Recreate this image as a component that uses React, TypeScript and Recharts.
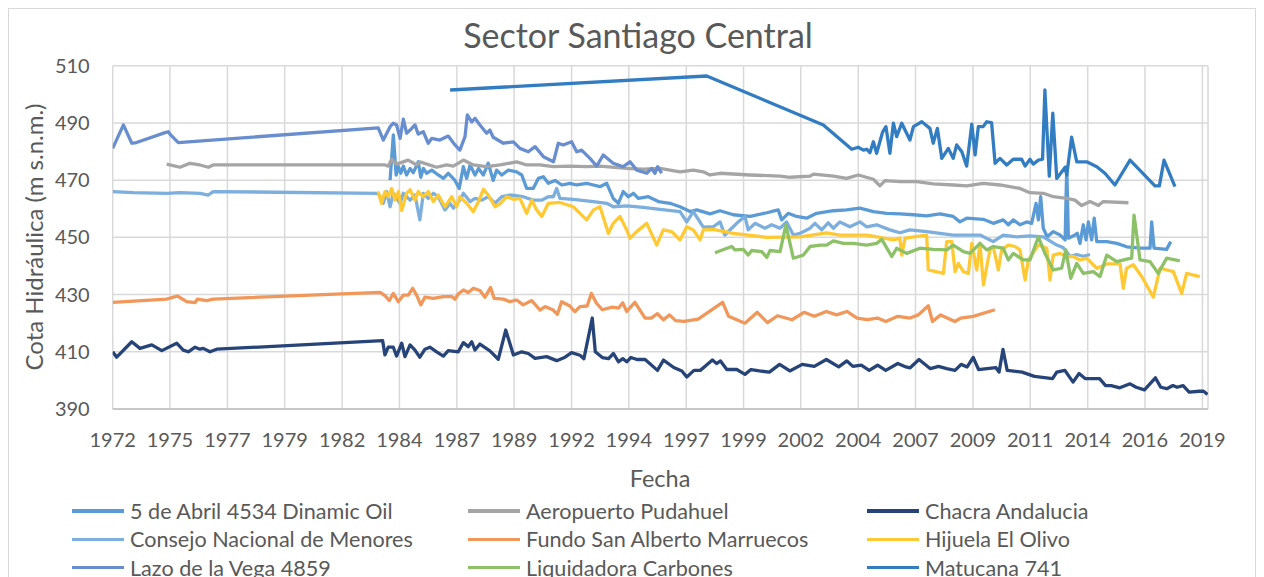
import React from "react";
import { CartesianGrid, Line, LineChart, XAxis, YAxis } from "recharts";

// Cota hidráulica por pozo, [año decimal, m s.n.m.]
const abrilData: [number, number][] = [
  [1984.47, 470.0], [1984.61, 485.8], [1984.73, 471.8], [1984.83, 474.7], [1984.93, 472.4], [1985.04, 474.9],
  [1985.18, 471.8], [1985.33, 474.1], [1985.47, 472.6], [1985.68, 476.4], [1985.79, 471.0], [1985.9, 474.1],
  [1986.04, 472.4], [1986.26, 473.5], [1986.54, 471.8], [1986.76, 470.6], [1986.97, 472.4], [1987.26, 469.9],
  [1987.44, 467.1], [1987.62, 474.7], [1987.76, 470.6], [1987.91, 475.3], [1988.12, 471.8], [1988.27, 474.1],
  [1988.48, 471.8], [1988.69, 475.9], [1988.9, 469.9], [1989.05, 473.5], [1989.27, 471.8], [1989.55, 473.5],
  [1989.91, 472.9], [1990.13, 471.8], [1990.34, 467.1], [1990.62, 467.1], [1990.84, 470.6], [1991.06, 471.2],
  [1991.27, 468.9], [1991.56, 469.9], [1991.85, 468.3], [1992.2, 468.9], [1992.49, 468.3], [1992.92, 468.9],
  [1993.21, 468.3], [1993.49, 467.7], [1993.78, 468.9], [1994.06, 463.6], [1994.28, 461.9], [1994.49, 466.0],
  [1994.71, 464.2], [1994.93, 465.4], [1995.14, 463.6], [1995.57, 464.2], [1996.0, 462.5], [1996.5, 461.9],
  [1996.93, 460.7], [1997.36, 459.0], [1997.65, 459.6], [1998.22, 458.2], [1998.65, 459.3], [1999.22, 457.9],
  [1999.94, 457.3], [2000.66, 458.6], [2001.15, 459.6], [2001.3, 456.1], [2001.58, 458.4], [2001.94, 457.3],
  [2002.37, 456.7], [2002.8, 458.4], [2003.52, 459.3], [2004.09, 459.6], [2004.66, 460.2], [2005.24, 459.0],
  [2005.81, 458.4], [2006.38, 458.2], [2006.96, 457.9], [2007.53, 457.5], [2008.1, 458.2], [2008.67, 457.3],
  [2008.96, 455.4], [2009.25, 456.7], [2009.96, 456.3], [2010.39, 454.9], [2010.82, 456.1], [2011.04, 454.4],
  [2011.25, 456.1], [2011.54, 454.4], [2011.83, 455.4], [2012.04, 454.9], [2012.23, 461.9], [2012.33, 456.1],
  [2012.43, 464.2], [2012.54, 453.2], [2012.71, 450.2], [2012.97, 452.0], [2013.26, 450.8], [2013.48, 449.1],
  [2013.55, 474.7], [2013.62, 449.7], [2013.9, 450.8], [2014.0, 451.4], [2014.12, 447.9], [2014.26, 454.4],
  [2014.38, 449.1], [2014.48, 455.4], [2014.62, 449.1], [2014.73, 456.7], [2014.84, 448.5], [2015.27, 448.5],
  [2015.7, 447.9], [2016.13, 446.7], [2016.7, 446.2], [2017.13, 446.2], [2017.2, 455.4], [2017.3, 446.2],
  [2017.84, 445.8], [2018.02, 448.5],
];

const aeropuertoData: [number, number][] = [
  [1974.87, 475.6], [1975.44, 474.5], [1975.87, 475.9], [1976.3, 475.3], [1976.66, 474.5], [1976.87, 475.3],
  [1984.25, 475.3], [1984.39, 474.9], [1984.54, 477.3], [1984.75, 475.6], [1985.25, 477.0], [1985.61, 475.3],
  [1985.75, 476.4], [1986.47, 474.5], [1986.9, 475.3], [1987.19, 474.9], [1987.62, 477.0], [1988.05, 475.3],
  [1988.62, 474.7], [1989.19, 475.3], [1989.91, 476.4], [1990.34, 475.3], [1990.91, 475.3], [1991.48, 474.7],
  [1992.2, 474.9], [1992.92, 474.7], [1993.49, 474.9], [1994.64, 474.1], [1995.35, 473.8], [1996.07, 474.1],
  [1996.93, 472.9], [1997.5, 473.5], [1997.93, 472.9], [1998.22, 471.8], [1998.65, 472.4], [1999.94, 471.8],
  [2001.23, 471.4], [2001.66, 471.0], [2002.52, 471.4], [2002.66, 472.1], [2003.52, 471.4], [2004.09, 470.6],
  [2004.59, 471.8], [2005.24, 470.3], [2005.52, 468.0], [2005.74, 469.8], [2006.38, 469.5], [2007.1, 469.5],
  [2007.81, 468.7], [2008.67, 468.3], [2009.25, 468.0], [2009.96, 468.9], [2010.68, 468.3], [2011.54, 467.1],
  [2011.97, 465.6], [2012.54, 465.4], [2012.97, 464.2], [2013.55, 463.6], [2013.9, 463.0], [2014.19, 461.1],
  [2014.55, 462.5], [2014.91, 461.1], [2015.12, 462.5], [2016.2, 462.1],
];

const chacraData: [number, number][] = [
  [1972.55, 410.0], [1972.72, 408.1], [1973.37, 413.5], [1973.72, 411.2], [1974.23, 412.4], [1974.66, 410.4],
  [1975.3, 413.0], [1975.58, 410.6], [1975.8, 410.0], [1976.09, 411.6], [1976.3, 410.9], [1976.44, 411.2],
  [1976.73, 410.0], [1977.02, 410.9], [1984.15, 413.9], [1984.25, 408.9], [1984.39, 411.6], [1984.61, 411.6],
  [1984.75, 408.5], [1984.97, 413.0], [1985.11, 408.3], [1985.33, 412.4], [1985.54, 410.6], [1985.75, 408.1],
  [1985.97, 410.9], [1986.18, 411.6], [1986.47, 410.0], [1986.76, 408.5], [1986.97, 410.4], [1987.4, 410.0],
  [1987.62, 413.2], [1987.83, 411.8], [1987.98, 413.5], [1988.12, 410.6], [1988.33, 412.7], [1988.76, 410.3],
  [1989.12, 407.4], [1989.44, 417.6], [1989.77, 408.9], [1990.13, 410.0], [1990.41, 409.4], [1990.7, 407.7],
  [1991.2, 408.3], [1991.63, 406.9], [1991.99, 408.1], [1992.27, 409.7], [1992.63, 408.8], [1992.8, 407.6],
  [1993.16, 421.8], [1993.29, 410.0], [1993.59, 408.0], [1993.86, 407.6], [1994.07, 409.4], [1994.29, 406.5],
  [1994.47, 407.6], [1994.64, 406.5], [1994.82, 408.0], [1995.08, 407.3], [1995.43, 407.3], [1995.96, 403.5],
  [1996.22, 407.1], [1996.66, 404.5], [1997.01, 403.3], [1997.22, 401.2], [1997.53, 403.5], [1997.8, 403.5],
  [1998.06, 405.3], [1998.32, 407.1], [1998.5, 405.9], [1998.67, 406.8], [1998.94, 403.8], [1999.37, 403.8],
  [1999.72, 402.1], [1999.98, 403.8], [2000.34, 403.3], [2000.77, 402.9], [2001.21, 405.6], [2001.65, 403.3],
  [2002.18, 405.6], [2002.7, 404.9], [2003.22, 407.3], [2003.75, 404.7], [2004.1, 406.8], [2004.36, 404.9],
  [2004.72, 405.3], [2005.06, 403.5], [2005.42, 405.3], [2005.77, 403.5], [2006.29, 405.9], [2006.64, 404.7],
  [2006.82, 404.4], [2007.2, 407.3], [2007.69, 404.1], [2008.04, 404.9], [2008.39, 404.1], [2008.75, 403.5],
  [2009.01, 405.6], [2009.27, 404.7], [2009.53, 408.0], [2009.76, 403.8], [2010.5, 404.5], [2010.64, 402.9],
  [2010.81, 410.8], [2010.99, 403.5], [2011.63, 402.9], [2012.16, 401.4], [2012.94, 400.6], [2013.12, 402.9],
  [2013.47, 403.5], [2013.82, 399.4], [2014.08, 402.4], [2014.35, 400.6], [2014.96, 400.6], [2015.22, 398.2],
  [2015.46, 398.2], [2015.83, 397.4], [2016.27, 398.8], [2016.53, 397.6], [2016.89, 396.7], [2017.36, 400.9],
  [2017.59, 397.6], [2017.85, 397.1], [2018.11, 398.2], [2018.29, 397.6], [2018.55, 398.2], [2018.81, 395.9],
  [2019.25, 396.2], [2019.43, 396.2], [2019.6, 395.1],
];

const consejoData: [number, number][] = [
  [1972.55, 466.0], [1973.44, 465.6], [1974.87, 465.4], [1975.44, 465.6], [1976.3, 465.4], [1976.66, 464.8],
  [1976.87, 466.0], [1983.96, 465.4], [1984.18, 461.9], [1984.32, 466.0], [1984.47, 460.7], [1984.61, 465.4],
  [1984.9, 461.9], [1985.04, 465.4], [1985.33, 463.0], [1985.54, 464.8], [1985.75, 456.1], [1985.9, 465.4],
  [1986.11, 463.6], [1986.33, 465.4], [1986.54, 464.2], [1986.83, 459.6], [1987.05, 461.9], [1987.19, 460.2],
  [1987.47, 463.0], [1987.62, 465.4], [1987.91, 462.5], [1988.12, 463.6], [1988.41, 463.0], [1988.69, 464.2],
  [1988.98, 461.9], [1989.27, 464.2], [1989.62, 464.8], [1990.19, 464.2], [1990.62, 463.0], [1990.98, 463.0],
  [1991.27, 464.2], [1991.49, 464.2], [1991.63, 467.1], [1991.77, 463.6], [1992.34, 463.3], [1993.21, 462.5],
  [1993.78, 461.9], [1994.06, 460.7], [1994.64, 461.0], [1995.35, 460.5], [1996.07, 459.8], [1996.93, 459.0],
  [1997.22, 455.4], [1997.5, 459.0], [1997.93, 453.6], [1998.36, 453.7], [1998.65, 455.4], [1998.86, 450.8],
  [1999.15, 453.2], [1999.43, 455.4], [1999.72, 457.3], [1999.86, 452.6], [2000.15, 454.9], [2000.58, 453.2],
  [2000.87, 454.4], [2001.23, 453.2], [2001.51, 455.4], [2001.8, 450.8], [2002.09, 451.4], [2002.52, 453.2],
  [2002.73, 454.9], [2003.02, 452.6], [2003.3, 455.1], [2003.52, 453.2], [2003.8, 455.4], [2004.23, 453.7],
  [2004.66, 455.4], [2004.95, 453.7], [2005.38, 454.4], [2005.95, 452.6], [2006.38, 451.6], [2006.81, 452.6],
  [2007.53, 452.0], [2008.1, 451.4], [2008.67, 450.8], [2009.25, 450.8], [2009.82, 450.8], [2010.25, 449.1],
  [2010.39, 448.5], [2010.82, 450.8], [2011.4, 450.2], [2011.97, 450.5], [2012.54, 450.2], [2013.12, 447.3],
  [2013.4, 446.4], [2013.69, 443.4], [2013.98, 444.0], [2014.26, 443.4], [2014.55, 444.0],
];

const fundoData: [number, number][] = [
  [1972.55, 427.3], [1974.87, 428.4], [1975.33, 429.5], [1975.73, 427.5], [1976.09, 427.2], [1976.19, 428.4],
  [1976.59, 427.9], [1976.87, 428.4], [1984.04, 430.8], [1984.25, 429.6], [1984.44, 427.9], [1984.61, 430.4],
  [1984.82, 427.5], [1985.04, 429.8], [1985.25, 429.8], [1985.44, 432.2], [1985.61, 429.8], [1985.79, 426.4],
  [1985.97, 429.1], [1986.33, 428.7], [1986.76, 429.3], [1987.12, 429.3], [1987.26, 428.4], [1987.4, 430.2],
  [1987.62, 431.6], [1987.83, 430.7], [1988.05, 432.2], [1988.33, 431.4], [1988.55, 429.1], [1988.79, 432.5],
  [1988.94, 428.7], [1989.34, 428.4], [1989.62, 427.5], [1989.91, 428.1], [1990.19, 426.4], [1990.56, 427.9],
  [1990.91, 424.6], [1991.13, 425.8], [1991.48, 424.6], [1991.66, 423.1], [1991.84, 427.5], [1992.2, 426.0],
  [1992.41, 424.0], [1992.63, 425.8], [1992.94, 426.0], [1993.12, 430.4], [1993.33, 427.1], [1993.59, 424.7],
  [1994.03, 425.6], [1994.29, 425.3], [1994.47, 427.1], [1994.64, 424.1], [1994.99, 427.3], [1995.43, 421.8],
  [1995.69, 421.8], [1995.96, 423.3], [1996.22, 421.2], [1996.48, 422.9], [1996.74, 420.9], [1997.1, 420.6],
  [1997.71, 421.4], [1998.76, 427.3], [1999.02, 422.4], [1999.72, 420.0], [2000.25, 423.8], [2000.69, 420.2],
  [2001.12, 422.6], [2001.74, 421.2], [2002.26, 423.8], [2002.7, 422.4], [2003.22, 424.1], [2003.66, 422.9],
  [2004.1, 424.1], [2004.54, 421.8], [2004.98, 421.2], [2005.42, 421.8], [2005.77, 420.6], [2006.29, 422.4],
  [2006.82, 421.8], [2007.17, 422.9], [2007.6, 426.1], [2007.78, 420.6], [2008.13, 422.9], [2008.74, 420.6],
  [2009.0, 421.8], [2009.53, 422.4], [2010.46, 424.7],
];

const hijuelaData: [number, number][] = [
  [1983.96, 466.0], [1984.1, 461.9], [1984.25, 466.0], [1984.39, 464.2], [1984.54, 467.1], [1984.68, 463.0],
  [1984.83, 466.0], [1984.97, 459.4], [1985.18, 465.4], [1985.33, 466.6], [1985.54, 463.0], [1985.68, 466.0],
  [1985.9, 464.2], [1986.11, 466.0], [1986.33, 462.5], [1986.54, 464.8], [1986.83, 460.7], [1987.12, 464.2],
  [1987.33, 460.7], [1987.47, 464.2], [1987.76, 461.9], [1988.05, 459.0], [1988.27, 462.5], [1988.48, 466.8],
  [1988.69, 464.8], [1988.98, 460.7], [1989.19, 461.7], [1989.48, 464.2], [1989.77, 463.3], [1990.05, 463.6],
  [1990.34, 458.4], [1990.56, 463.0], [1990.77, 459.6], [1990.99, 457.3], [1991.27, 461.9], [1991.77, 462.2],
  [1992.34, 460.7], [1992.63, 458.4], [1992.92, 456.1], [1993.21, 459.6], [1993.49, 460.7], [1993.85, 451.4],
  [1994.06, 454.9], [1994.35, 457.3], [1994.64, 452.6], [1994.78, 449.7], [1995.07, 452.0], [1995.5, 454.9],
  [1995.93, 447.3], [1996.21, 452.6], [1996.57, 452.0], [1996.93, 449.1], [1997.22, 453.7], [1997.5, 452.6],
  [1997.79, 449.1], [1997.93, 452.6], [1998.36, 452.8], [1999.22, 451.4], [2000.66, 450.0], [2002.09, 450.2],
  [2003.23, 451.6], [2003.8, 450.8], [2004.95, 450.8], [2005.52, 450.0], [2006.1, 449.1], [2006.38, 449.7],
  [2006.46, 443.8], [2006.6, 449.7], [2007.53, 450.8], [2007.6, 438.6], [2008.25, 437.4], [2008.39, 448.5],
  [2008.61, 448.5], [2008.75, 438.0], [2008.89, 440.9], [2009.11, 438.0], [2009.32, 437.4], [2009.47, 447.9],
  [2009.68, 438.6], [2009.82, 447.9], [2009.97, 433.4], [2010.11, 439.7], [2010.25, 445.6], [2010.39, 446.8],
  [2010.61, 438.6], [2010.75, 445.6], [2011.04, 447.3], [2011.33, 446.8], [2011.54, 445.6], [2011.76, 435.1],
  [2011.9, 442.1], [2012.33, 447.3], [2012.69, 446.2], [2012.83, 435.1], [2012.97, 443.8], [2013.26, 444.4],
  [2013.55, 443.3], [2013.83, 443.3], [2014.12, 442.1], [2014.41, 442.7], [2014.84, 439.2], [2015.27, 440.7],
  [2015.84, 440.7], [2015.98, 432.2], [2016.12, 439.2], [2016.41, 440.4], [2016.77, 436.3], [2017.27, 429.1],
  [2017.56, 439.2], [2018.13, 438.0], [2018.49, 430.4], [2018.7, 437.4], [2019.27, 436.3],
];

const lazoData: [number, number][] = [
  [1972.55, 481.1], [1973.01, 489.3], [1973.37, 482.9], [1973.51, 483.0], [1974.8, 486.6], [1974.94, 486.9],
  [1975.04, 485.8], [1975.37, 483.1], [1983.96, 488.3], [1984.18, 484.0], [1984.47, 488.7], [1984.61, 489.9],
  [1984.75, 489.3], [1984.9, 484.6], [1985.04, 491.3], [1985.18, 486.4], [1985.33, 487.5], [1985.54, 489.3],
  [1985.68, 486.1], [1985.9, 486.9], [1986.11, 482.9], [1986.26, 484.6], [1986.61, 484.0], [1986.97, 485.4],
  [1987.26, 482.3], [1987.47, 480.5], [1987.69, 485.2], [1987.79, 492.8], [1987.98, 490.4], [1988.12, 491.6],
  [1988.33, 489.3], [1988.62, 486.4], [1988.76, 487.5], [1988.9, 485.0], [1989.34, 482.9], [1989.77, 483.4],
  [1990.05, 481.1], [1990.41, 479.9], [1990.7, 481.7], [1991.06, 478.2], [1991.49, 476.4], [1991.7, 482.9],
  [1991.91, 482.3], [1992.27, 483.4], [1992.49, 479.9], [1992.7, 480.5], [1993.06, 477.6], [1993.35, 474.9],
  [1993.63, 478.8], [1994.06, 475.9], [1994.49, 474.7], [1994.78, 476.4], [1995.07, 473.5], [1995.5, 472.4],
  [1995.71, 474.1], [1995.85, 472.4], [1995.97, 474.7], [1996.14, 472.4],
];

const liquidadoraData: [number, number][] = [
  [1998.43, 444.6], [1999.15, 446.8], [1999.29, 445.6], [1999.65, 445.8], [1999.86, 443.8], [2000.01, 445.4],
  [2000.44, 445.0], [2000.66, 443.0], [2000.8, 445.4], [2001.23, 445.0], [2001.48, 454.3], [2001.8, 442.7],
  [2002.23, 443.8], [2002.52, 446.8], [2002.95, 447.3], [2003.23, 447.3], [2003.52, 448.8], [2003.95, 447.9],
  [2004.38, 447.9], [2004.95, 447.3], [2005.38, 447.9], [2005.6, 449.3], [2006.03, 443.3], [2006.24, 446.2],
  [2006.67, 444.4], [2007.24, 446.2], [2007.81, 445.8], [2008.39, 445.6], [2008.67, 447.3], [2009.11, 445.0],
  [2009.39, 444.4], [2009.82, 447.9], [2010.11, 445.6], [2010.39, 446.8], [2010.82, 446.2], [2011.04, 442.1],
  [2011.25, 444.4], [2011.68, 442.1], [2011.97, 442.1], [2012.33, 450.2], [2012.61, 444.4], [2012.97, 438.6],
  [2013.33, 439.2], [2013.51, 445.6], [2013.72, 435.7], [2013.98, 440.9], [2014.26, 437.4], [2014.69, 438.0],
  [2014.98, 436.3], [2015.27, 443.8], [2015.7, 441.5], [2016.13, 442.4], [2016.34, 442.7], [2016.44, 457.8],
  [2016.7, 442.1], [2017.13, 441.5], [2017.48, 437.4], [2017.84, 442.7], [2018.41, 441.8],
];

const matucanaData: [number, number][] = [
  [1987.05, 501.5], [1998.08, 506.4], [2003.09, 489.3], [2004.31, 480.8], [2004.59, 481.5], [2004.81, 480.5],
  [2004.95, 480.8], [2005.09, 479.6], [2005.24, 483.4], [2005.38, 479.4], [2005.64, 486.9], [2005.78, 488.7],
  [2005.95, 479.4], [2006.1, 489.9], [2006.24, 485.2], [2006.46, 489.9], [2006.6, 487.5], [2006.81, 484.0],
  [2006.96, 488.7], [2007.32, 490.4], [2007.67, 488.1], [2007.81, 482.9], [2007.99, 488.1], [2008.18, 477.6],
  [2008.46, 481.1], [2008.67, 477.6], [2008.82, 482.3], [2009.04, 479.9], [2009.25, 474.9], [2009.47, 489.6],
  [2009.61, 478.8], [2009.75, 488.7], [2009.96, 488.7], [2010.11, 490.4], [2010.32, 490.1], [2010.47, 475.9],
  [2010.68, 477.6], [2010.97, 475.3], [2011.25, 477.3], [2011.61, 477.3], [2011.76, 474.9], [2011.97, 477.3],
  [2012.11, 475.6], [2012.33, 477.0], [2012.51, 477.3], [2012.61, 501.5], [2012.8, 471.4], [2012.95, 493.4],
  [2013.12, 470.6], [2013.48, 474.5], [2013.55, 471.8], [2013.76, 485.0], [2013.98, 476.4], [2014.41, 476.4],
  [2014.84, 474.7], [2015.19, 472.4], [2015.62, 468.3], [2016.27, 477.0], [2017.34, 468.0], [2017.53, 468.0],
  [2017.73, 477.0], [2018.2, 467.7],
];

const series = [
  { name: "5 de Abril 4534 Dinamic Oil", color: "#5B9BD5", data: abrilData },
  { name: "Aeropuerto Pudahuel", color: "#A5A5A5", data: aeropuertoData },
  { name: "Chacra Andalucia", color: "#264478", data: chacraData },
  { name: "Consejo Nacional de Menores", color: "#7CAFDD", data: consejoData },
  { name: "Fundo San Alberto Marruecos", color: "#F1975A", data: fundoData },
  { name: "Hijuela El Olivo", color: "#FFC933", data: hijuelaData },
  { name: "Lazo de la Vega 4859", color: "#698ED0", data: lazoData },
  { name: "Liquidadora Carbones", color: "#8CC168", data: liquidadoraData },
  { name: "Matucana 741", color: "#327DC2", data: matucanaData },
];

// Excel date axis: major unit ~900 days, labels formatted yyyy
const xTicks = [
  1972.55, 1975.01, 1977.48, 1979.94, 1982.41, 1984.87, 1987.34, 1989.8, 1992.27, 1994.73,
  1997.2, 1999.66, 2002.12, 2004.59, 2007.05, 2009.52, 2011.98, 2014.45, 2016.91, 2019.38,
];
const xTickLabels = [
  "1972", "1975", "1977", "1979", "1982", "1984", "1987", "1989", "1992", "1994",
  "1997", "1999", "2002", "2004", "2007", "2009", "2011", "2014", "2016", "2019",
];
const yTicks = [390, 410, 430, 450, 470, 490, 510];

const FONT = "Lato, 'Open Sans', sans-serif";
const TEXT = "#595959";

const legendCols = [63, 459, 858];

export default function App() {
  return (
    <div
      style={{
        position: "relative",
        width: 1248,
        height: 620,
        border: "1px solid #d9d9d9",
        boxSizing: "border-box",
        background: "#fff",
        fontFamily: FONT,
        color: TEXT,
      }}
    >
      <div
        style={{
          position: "absolute",
          left: 629,
          top: 5,
          transform: "translateX(-50%)",
          fontSize: 34,
          whiteSpace: "nowrap",
        }}
      >
        Sector Santiago Central
      </div>

      <LineChart
        width={1246}
        height={560}
        margin={{ top: 56.7, right: 47, bottom: 120, left: 0 }}
        style={{ position: "absolute", left: 0, top: 0 }}
      >
        <CartesianGrid stroke="#d9d9d9" strokeWidth={1.5} />
        <XAxis
          type="number"
          dataKey="x"
          domain={[1972.55, 2019.62]}
          ticks={xTicks}
          tickFormatter={(v: number) => xTickLabels[xTicks.indexOf(v)] ?? ""}
          interval={0}
          height={40}
          tickLine={false}
          tickSize={0}
          tickMargin={24}
          axisLine={{ stroke: "#bfbfbf", strokeWidth: 1.5 }}
          tick={{ fill: TEXT, fontSize: 20, fontFamily: FONT }}
          allowDataOverflow
        />
        <YAxis
          type="number"
          domain={[390, 510]}
          ticks={yTicks}
          interval={0}
          width={103.7}
          tickLine={false}
          tickSize={0}
          tickMargin={23}
          axisLine={false}
          tick={{ fill: TEXT, fontSize: 20, fontFamily: FONT }}
          allowDataOverflow
        />
        {series.map((s) => (
          <Line
            key={s.name}
            name={s.name}
            data={s.data.map(([x, y]) => ({ x, y }))}
            dataKey="y"
            type="linear"
            stroke={s.color}
            strokeWidth={3.3}
            strokeLinejoin="round"
            dot={false}
            activeDot={false}
            isAnimationActive={false}
          />
        ))}
      </LineChart>

      <div
        style={{
          position: "absolute",
          left: 24,
          top: 228,
          transform: "translate(-50%, -50%) rotate(-90deg)",
          fontSize: 24,
          whiteSpace: "nowrap",
        }}
      >
        Cota Hidráulica (m s.n.m.)
      </div>

      <div
        style={{
          position: "absolute",
          left: 651,
          top: 455,
          transform: "translateX(-50%)",
          fontSize: 23.5,
        }}
      >
        Fecha
      </div>

      {series.map((s, i) => (
        <div
          key={s.name}
          style={{
            position: "absolute",
            left: legendCols[i % 3],
            top: 489 + Math.floor(i / 3) * 28.3,
            display: "flex",
            alignItems: "center",
            fontSize: 21.6,
            whiteSpace: "nowrap",
          }}
        >
          <span style={{ display: "inline-block", width: 52, height: 3.3, background: s.color, marginRight: 6 }} />
          {s.name}
        </div>
      ))}
    </div>
  );
}
